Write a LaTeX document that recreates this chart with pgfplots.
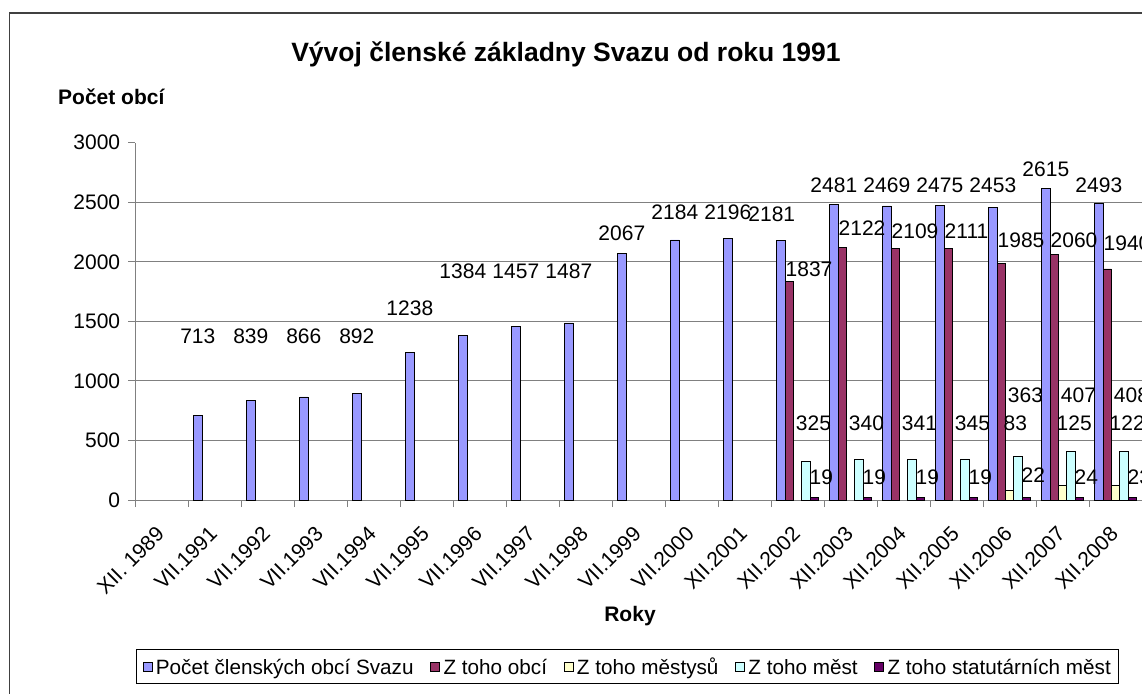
\documentclass[border=0pt]{standalone}
\usepackage{pgfplots}
\pgfplotsset{compat=1.18}
\usepackage{pgfplotstable}
\usepackage{fontspec}
\setmainfont{Liberation Sans}
\definecolor{cBlue}{HTML}{9999FF}
\definecolor{cMaroon}{HTML}{993366}
\definecolor{cYellow}{HTML}{FFFFCC}
\definecolor{cCyan}{HTML}{CCFFFF}
\definecolor{cPurple}{HTML}{660066}
\definecolor{cGrid}{HTML}{808080}
\newcommand{\lbl}{\fontsize{21}{25}\selectfont}

\pgfplotstableread{
x y ly lx
1 713 1314 1
2 839 1314 2
3 866 1314 3
4 892 1314 4
5 1238 1549 5
6 1384 1860 6
7 1457 1860 7
8 1487 1860 8
9 2067 2179 9
10 2184 2355 10
11 2196 2355 11
12 2181 2337 11.83
13 2481 2586 13
14 2469 2586 14
15 2475 2586 15
16 2453 2586 16
17 2615 2720 17
18 2493 2586 18
}\tblBlue
\pgfplotstableread{
x y ly
12 1837 1875
13 2122 2217
14 2109 2197
15 2111 2197
16 1985 2116
17 2060 2116
18 1940 2099
}\tblMaroon
\pgfplotstableread{
x y ly
16 83 582
17 125 582
18 122 582
}\tblYellow
\pgfplotstableread{
x y ly
12 325 582
13 340 582
14 341 582
15 345 582
16 363 817
17 407 817
18 408 817
}\tblCyan
\pgfplotstableread{
x y ly
12 19 126
13 19 126
14 19 126
15 19 126
16 22 147
17 24 126
18 23 126
}\tblPurple

\pgfplotsset{
  mybar/.style={ybar, bar width=8.33pt, bar shift=#1, draw=black, line width=0.7pt,
    legend image code/.code={\draw[##1, draw=black, line width=0.7pt] (0pt,-4.65pt) rectangle (9.3pt,4.65pt);}},
  mylbl/.style={forget plot, draw=none, mark=none, nodes near coords, point meta=explicit symbolic,
    nodes near coords style={inner sep=0pt, font=\lbl, #1}},
}

\begin{document}
\begin{tikzpicture}[x=1pt,y=1pt]
\path[use as bounding box] (0,0) rectangle (1142,693);
\begin{scope}
\clip (0,0) rectangle (1142,693);
\fill[white] (0,0) rectangle (1142,693);
\draw[line width=1.3pt, black!75] (9.3,-20) -- (9.3,680) -- (1170,680);
\node[font=\fontsize{26.5}{31}\selectfont\bfseries, anchor=base, inner sep=0pt] at (566,631.3) {Vývoj členské základny Svazu od roku 1991};
\node[font=\fontsize{21}{25}\selectfont\bfseries, anchor=base west, inner sep=0pt] at (58,588) {Počet obcí};
\node[font=\fontsize{21}{25}\selectfont\bfseries, anchor=base, inner sep=0pt] at (630,71) {Roky};
\begin{axis}[
  at={(135pt,193pt)}, anchor=south west,
  width=1007pt, height=357.3pt, scale only axis,
  xmin=-0.5, xmax=18.5, ymin=0, ymax=3000,
  axis lines=left,
  axis line style={-, draw=cGrid, line width=1pt},
  clip=false,
  ytick={0,500,...,2500},
  extra y ticks={3000},
  extra y tick style={grid=none},
  ymajorgrids, major grid style={draw=cGrid, line width=0.9pt},
  tick align=outside,
  major tick length=7pt, minor tick length=7pt,
  tick style={draw=cGrid, line width=1pt},
  xtick={0,...,18},
  xticklabels={XII. 1989,VII.1991,VII.1992,VII.1993,VII.1994,VII.1995,VII.1996,VII.1997,VII.1998,VII.1999,VII.2000,XII.2001,XII.2002,XII.2003,XII.2004,XII.2005,XII.2006,XII.2007,XII.2008},
  major x tick style={draw=none},
  minor xtick={-0.5,0.5,...,18.5},
  yticklabel style={font=\lbl, xshift=-4.3pt, /pgf/number format/1000 sep={}, /pgf/number format/assume math mode=true},
  xticklabel style={font=\lbl, xshift=-6.5pt, yshift=-18pt, rotate=45, anchor=north east, inner sep=0pt},
  legend columns=5,
  legend cell align=left,
  legend style={at={(0.0007,-0.515)}, anchor=south west, draw=black, line width=0.8pt,
    font=\fontsize{20.7}{24}\selectfont, inner xsep=6.4pt, inner ysep=3.5pt,
    nodes={inner sep=1.2pt, text height=20.5pt, text depth=4.3pt},
    /tikz/every odd column/.append style={column sep=2.2pt},
    /tikz/every even column/.append style={column sep=15.3pt}},
]
\addplot[mybar=-16.67pt, fill=cBlue] table[x=x,y=y]{\tblBlue};
\addlegendentry{Počet členských obcí Svazu}
\addplot[mybar=-8.33pt, fill=cMaroon] table[x=x,y=y]{\tblMaroon};
\addlegendentry{Z toho obcí}
\addplot[mybar=0pt, fill=cYellow] table[x=x,y=y]{\tblYellow};
\addlegendentry{Z toho městysů}
\addplot[mybar=8.33pt, fill=cCyan] table[x=x,y=y]{\tblCyan};
\addlegendentry{Z toho měst}
\addplot[mybar=16.67pt, fill=cPurple] table[x=x,y=y]{\tblPurple};
\addlegendentry{Z toho statutárních měst}

\addplot[mylbl={anchor=base, xshift=-16.67pt}] table[x=lx,y=ly,meta=y]{\tblBlue};
\addplot[mylbl={anchor=base west, xshift=-12pt}] table[x=x,y=ly,meta=y]{\tblMaroon};
\addplot[mylbl={anchor=base west, xshift=-6pt}] table[x=x,y=ly,meta=y]{\tblYellow};
\addplot[mylbl={anchor=base west, xshift=-1.8pt}] table[x=x,y=ly,meta=y]{\tblCyan};
\addplot[mylbl={anchor=base west, xshift=12pt}] table[x=x,y=ly,meta=y]{\tblPurple};
\end{axis}
\end{scope}
\end{tikzpicture}
\end{document}
